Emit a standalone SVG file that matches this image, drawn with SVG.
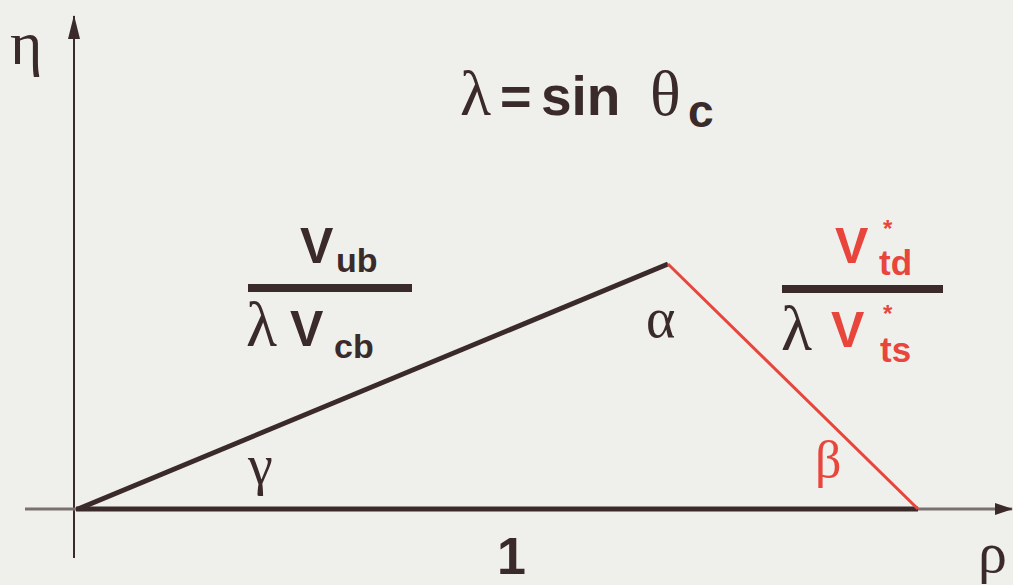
<svg xmlns="http://www.w3.org/2000/svg" width="1013" height="585" viewBox="0 0 1013 585">
<style>
.g{font-family:"Liberation Serif","DejaVu Serif",serif;fill:#3b2a2a}
.b{font-family:"Liberation Sans",Arial,sans-serif;font-weight:bold}
.dk{fill:#3b2a2a}
.rd{fill:#e8453c}
</style>
<defs>
<marker id="ahv" markerWidth="12" markerHeight="24" refX="6" refY="1" orient="0" markerUnits="userSpaceOnUse">
<path d="M6,0 L12,24 L0,24 Z" fill="#3b2a2a"/>
</marker>
<marker id="ahh" markerWidth="18" markerHeight="12" refX="17" refY="6" orient="0" markerUnits="userSpaceOnUse">
<path d="M18,6 L0,0 L0,12 Z" fill="#3b2a2a"/>
</marker>
</defs>
<rect width="1013" height="585" fill="#eff0eb"/>
<g id="connectors">
<line x1="74" y1="558" x2="74" y2="16" stroke="#3b2a2a" stroke-width="2" marker-end="url(#ahv)"/>
<line x1="25" y1="509" x2="1012" y2="509" stroke="#7a7070" stroke-width="3" marker-end="url(#ahh)"/>
<line x1="76" y1="509" x2="918" y2="509" stroke="#3b2a2a" stroke-width="5"/>
<line x1="78" y1="509" x2="668" y2="264" stroke="#3b2a2a" stroke-width="5"/>
<line x1="668" y1="264" x2="918" y2="509" stroke="#e8453c" stroke-width="3"/>
</g>
<g id="eta"><text class="g" x="10" y="64" font-size="62">η</text></g>
<g id="title">
<text class="g" x="460" y="115" font-size="64">λ</text>
<text class="b dk" x="500" y="115" font-size="54">=</text>
<text class="b dk" x="541" y="115" font-size="55">sin</text>
<text class="g" x="650" y="115" font-size="64">θ</text>
<text class="b dk" x="688" y="127" font-size="46">c</text>
</g>
<g id="vub">
<text class="b dk" x="300" y="263" font-size="50">V</text>
<text class="b dk" x="336" y="272" font-size="34">ub</text>
<rect x="248" y="284" width="164" height="8" class="dk"/>
<text class="g" x="246" y="346" font-size="64">λ</text>
<text class="b dk" x="290" y="346" font-size="50">V</text>
<text class="b dk" x="334" y="358" font-size="34">cb</text>
</g>
<g id="vtd">
<text class="b rd" x="835" y="263" font-size="50">V</text>
<text class="b rd" x="883" y="237" font-size="24">*</text>
<text class="b rd" x="879" y="275" font-size="35">td</text>
<rect x="782" y="285" width="161" height="8" class="dk"/>
<text class="g" x="781" y="350" font-size="64">λ</text>
<text class="b rd" x="831" y="347" font-size="50">V</text>
<text class="b rd" x="883" y="322" font-size="24">*</text>
<text class="b rd" x="880" y="362" font-size="35">ts</text>
</g>
<g id="alpha"><text class="g" x="646" y="337" font-size="56">α</text></g>
<g id="gamma"><text class="g" x="248" y="484" font-size="56">γ</text></g>
<g id="beta"><text class="g" x="815" y="477" font-size="52" style="fill:#e8453c">β</text></g>
<g id="one"><text class="b dk" x="497" y="574" font-size="52">1</text></g>
<g id="rho"><text class="g" x="978" y="572" font-size="58">ρ</text></g>
</svg>
